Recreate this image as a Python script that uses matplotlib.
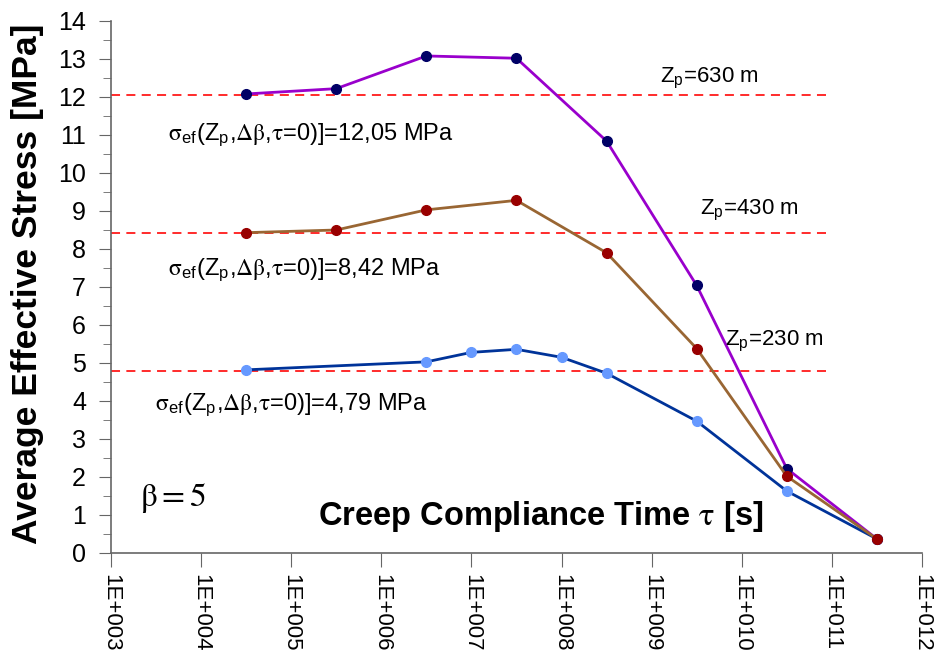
import matplotlib
matplotlib.use("Agg")
import matplotlib.pyplot as plt

plt.rcParams['font.family'] = ['Liberation Sans', 'DejaVu Sans']
plt.rcParams['mathtext.fontset'] = 'stix'
plt.rcParams['mathtext.default'] = 'rm'

# creep compliance time [s]
tau = [3.16e4, 3.16e5, 3.16e6, 3.16e7, 3.16e8, 3.16e9, 3.16e10, 3.16e11]
tau_230 = [3.16e4, 3.16e6, 1e7, 3.16e7, 1e8, 3.16e8, 3.16e9, 3.16e10, 3.16e11]

# average effective stress [MPa]
stress_630 = [12.08, 12.22, 13.08, 13.02, 10.84, 7.04, 2.22, 0.37]
stress_430 = [8.43, 8.50, 9.03, 9.28, 7.90, 5.38, 2.02, 0.37]
stress_230 = [4.82, 5.03, 5.28, 5.36, 5.15, 4.73, 3.47, 1.63, 0.37]

# initial stress levels (tau = 0)
sigma0 = [12.05, 8.42, 4.79]
sigma0_labels = ['12,05', '8,42', '4,79']
depth_labels = ['630', '430', '230']

xticks = [1e3, 1e4, 1e5, 1e6, 1e7, 1e8, 1e9, 1e10, 1e11, 1e12]
xtick_labels = ['1E+003', '1E+004', '1E+005', '1E+006', '1E+007',
                '1E+008', '1E+009', '1E+010', '1E+011', '1E+012']

fig = plt.figure(figsize=(9.35, 6.54), dpi=100)
ax = fig.add_axes([111 / 935, 101 / 654, 811 / 935, 532 / 654])

for s in sigma0:
    ax.plot([1e3, 1e11], [s, s], color='#ff1a1a', linestyle=(0, (5, 3.5)),
            linewidth=1.3, zorder=1)

ax.plot(tau, stress_630, color='#9900cc', linewidth=2, marker='o',
        markersize=7, markerfacecolor='#000066', markeredgecolor='#000066', zorder=3)
ax.plot(tau, stress_430, color='#996633', linewidth=2, marker='o',
        markersize=7, markerfacecolor='#990000', markeredgecolor='#990000', zorder=3)
ax.plot(tau_230, stress_230, color='#003399', linewidth=2, marker='o',
        markersize=7, markerfacecolor='#6699ff', markeredgecolor='#6699ff', zorder=2)

ax.set_xscale('log')
ax.set_xlim(1e3, 1e12)
ax.set_ylim(0, 14)
ax.set_xticks(xticks)
ax.set_xticklabels(xtick_labels, rotation=270, fontsize=16, va='top', ha='center')
ax.xaxis.set_minor_locator(matplotlib.ticker.NullLocator())
ax.set_yticks(range(0, 15))
ax.set_yticks([i + 0.5 for i in range(14)], minor=True)
ax.tick_params(axis='y', labelsize=18, direction='out', length=9, color='#666666', pad=9)
ax.tick_params(axis='y', which='minor', length=6, color='#666666')
ax.tick_params(axis='x', direction='out', length=10, color='#666666', pad=5)

for side in ['top', 'right']:
    ax.spines[side].set_visible(False)
for side in ['left', 'bottom']:
    ax.spines[side].set_color('#666666')
    ax.spines[side].set_linewidth(1.2)

# annotations
sig_pos = [(10**3.63, 11.0), (10**3.63, 7.45), (10**3.49, 3.9)]
for (x, y), lab in zip(sig_pos, sigma0_labels):
    ax.text(x, y, r'$\sigma_{\mathregular{ef}}$(Z$_{\mathregular{p}}$,$\Delta\beta$,$\tau$=0)]=' + lab + ' MPa',
            fontsize=17, va='center', ha='left')

zp_pos = [(10**9.09, 12.5), (10**9.54, 9.03), (10**9.81, 5.58)]
for (x, y), lab in zip(zp_pos, depth_labels):
    ax.text(x, y, r'Z$_{\mathregular{p}}$=' + lab + ' m', fontsize=16, va='center', ha='left')

ax.text(10**3.32, 1.45, r'$\beta = 5$', fontsize=24, va='center', ha='left')
ax.text(10**5.3, 0.95, r'Creep Compliance Time $\tau$ [s]', fontsize=23.5,
        fontweight='bold', va='center', ha='left')

fig.text(28 / 935, 1 - 284 / 654, 'Average Effective Stress [MPa]', rotation=90,
         fontsize=25.5, fontweight='bold', va='center', ha='center')

plt.savefig('out.png', dpi=100)
